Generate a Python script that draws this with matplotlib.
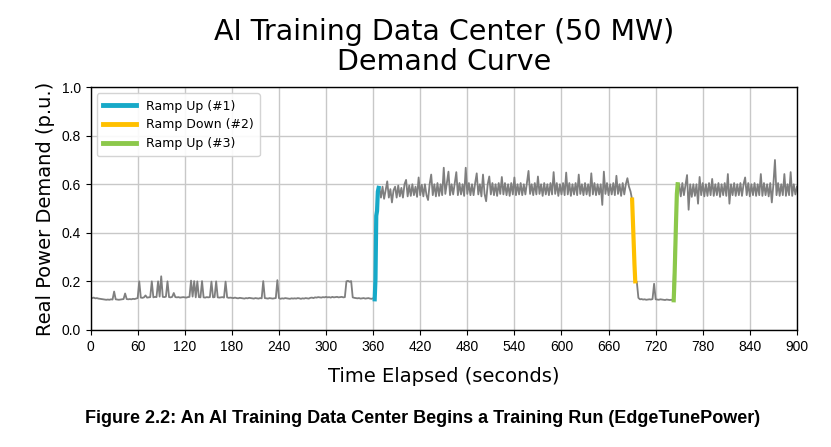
import numpy as np
import matplotlib
matplotlib.use('Agg')
import matplotlib.pyplot as plt

low_a = [0.132, 0.131, 0.133, 0.130, 0.131, 0.129, 0.128, 0.127, 0.126, 0.125,
         0.124, 0.125, 0.124, 0.126, 0.125, 0.158, 0.126, 0.125, 0.124, 0.125,
         0.126, 0.127, 0.150, 0.127, 0.126, 0.127, 0.126, 0.128, 0.127, 0.129,
         0.131, 0.200, 0.133, 0.132, 0.134, 0.142, 0.133, 0.134, 0.135, 0.200,
         0.134, 0.136, 0.135, 0.200, 0.137, 0.221, 0.136, 0.135, 0.137, 0.200,
         0.135, 0.134, 0.136, 0.152, 0.135, 0.134, 0.135, 0.133, 0.134, 0.135,
         0.134, 0.133, 0.135, 0.136, 0.203, 0.137, 0.201, 0.134, 0.200, 0.135,
         0.134, 0.201, 0.134, 0.133, 0.135, 0.134, 0.135, 0.199, 0.134, 0.135,
         0.200, 0.134, 0.133, 0.134, 0.135, 0.133, 0.199, 0.134, 0.132, 0.133,
         0.132, 0.131, 0.133, 0.131, 0.130, 0.132, 0.131, 0.130, 0.129, 0.131,
         0.130, 0.132, 0.131, 0.130, 0.129, 0.131, 0.130, 0.129, 0.131, 0.130,
         0.201, 0.131, 0.130, 0.129, 0.131, 0.130, 0.129, 0.130, 0.131, 0.205,
         0.131, 0.128, 0.130, 0.129, 0.131, 0.130, 0.129, 0.128, 0.130, 0.129,
         0.130, 0.129, 0.131, 0.130, 0.128, 0.130, 0.129, 0.131, 0.130, 0.129,
         0.132, 0.133, 0.131, 0.134, 0.133, 0.135, 0.134, 0.133, 0.135, 0.134,
         0.136, 0.134, 0.135, 0.133, 0.136, 0.134, 0.135, 0.136, 0.134, 0.135,
         0.136, 0.134, 0.135, 0.200, 0.202, 0.198, 0.201, 0.134, 0.132, 0.131,
         0.130, 0.131, 0.129, 0.130, 0.131, 0.129, 0.130, 0.131, 0.129, 0.128,
         0.130]
step_a = [0.126, 0.470, 0.570]
high_a = [0.585, 0.545, 0.590, 0.540, 0.575, 0.612, 0.545, 0.580, 0.525, 0.575,
          0.590, 0.545, 0.595, 0.550, 0.585, 0.545, 0.600, 0.618, 0.550, 0.595,
          0.552, 0.600, 0.555, 0.590, 0.548, 0.628, 0.555, 0.598, 0.550, 0.600,
          0.555, 0.535, 0.600, 0.640, 0.555, 0.600, 0.550, 0.605, 0.552, 0.600,
          0.555, 0.668, 0.560, 0.605, 0.652, 0.555, 0.600, 0.558, 0.605, 0.650,
          0.555, 0.605, 0.558, 0.600, 0.552, 0.668, 0.560, 0.605, 0.555, 0.600,
          0.555, 0.605, 0.645, 0.558, 0.600, 0.550, 0.640, 0.560, 0.530, 0.600,
          0.632, 0.558, 0.605, 0.555, 0.600, 0.552, 0.605, 0.560, 0.630, 0.558,
          0.605, 0.555, 0.600, 0.552, 0.605, 0.558, 0.628, 0.555, 0.600, 0.558,
          0.605, 0.555, 0.600, 0.558, 0.605, 0.655, 0.560, 0.600, 0.555, 0.605,
          0.558, 0.632, 0.560, 0.600, 0.552, 0.605, 0.558, 0.600, 0.555, 0.605,
          0.558, 0.650, 0.560, 0.605, 0.552, 0.600, 0.558, 0.605, 0.555, 0.648,
          0.558, 0.605, 0.552, 0.600, 0.558, 0.605, 0.555, 0.640, 0.560, 0.600,
          0.555, 0.605, 0.558, 0.600, 0.552, 0.645, 0.558, 0.605, 0.555, 0.600,
          0.558, 0.600, 0.515, 0.652, 0.560, 0.605, 0.555, 0.600, 0.558, 0.605,
          0.555, 0.635, 0.560, 0.600, 0.552, 0.605, 0.558, 0.600, 0.625, 0.590,
          0.570]
step_b = [0.537, 0.350, 0.200]
low_b = [0.198, 0.132, 0.126, 0.127, 0.125, 0.126, 0.124, 0.125, 0.126, 0.125,
         0.127, 0.190, 0.126, 0.125, 0.124, 0.126, 0.125, 0.124, 0.123, 0.125,
         0.124, 0.123, 0.124, 0.122]
step_c = [0.300, 0.480, 0.600]
high_b = [0.600, 0.550, 0.605, 0.555, 0.598, 0.638, 0.495, 0.600, 0.548, 0.600,
          0.552, 0.600, 0.520, 0.630, 0.555, 0.605, 0.550, 0.600, 0.552, 0.605,
          0.555, 0.622, 0.552, 0.600, 0.555, 0.605, 0.548, 0.600, 0.555, 0.605,
          0.552, 0.642, 0.520, 0.600, 0.555, 0.605, 0.552, 0.600, 0.555, 0.605,
          0.552, 0.600, 0.628, 0.555, 0.605, 0.550, 0.600, 0.555, 0.605, 0.552,
          0.600, 0.555, 0.642, 0.552, 0.605, 0.555, 0.600, 0.550, 0.605, 0.525,
          0.600, 0.700, 0.555, 0.605, 0.552, 0.600, 0.555, 0.642, 0.552, 0.600,
          0.555, 0.650, 0.552, 0.600, 0.558, 0.590]

power = np.array(low_a + step_a + high_a + step_b + low_b + step_c + high_b)
time_s = np.arange(0, 901, 2)

# ramp segments (1 s resolution)
ramp1_t = [362, 363, 364, 365, 366, 367]
ramp1_p = [0.126, 0.210, 0.470, 0.490, 0.570, 0.585]
ramp2_t = [690, 691, 692, 693, 694]
ramp2_p = [0.537, 0.450, 0.360, 0.270, 0.200]
ramp3_t = [743, 744, 745, 746, 747, 748]
ramp3_p = [0.122, 0.210, 0.330, 0.450, 0.560, 0.600]

xticks = list(range(0, 901, 60))
yticks = [0.0, 0.2, 0.4, 0.6, 0.8, 1.0]

tickfont = ['Liberation Sans', 'DejaVu Sans']

fig = plt.figure(figsize=(8.31, 4.47), dpi=100)
ax = fig.add_axes([0.109, 0.262, 0.850, 0.543])

ax.plot(time_s, power, color='#7f7f7f', linewidth=1.3, zorder=2)
ax.plot(ramp1_t, ramp1_p, color='#17a9c8', linewidth=3, label='Ramp Up (#1)', zorder=3)
ax.plot(ramp2_t, ramp2_p, color='#ffc000', linewidth=3, label='Ramp Down (#2)', zorder=3)
ax.plot(ramp3_t, ramp3_p, color='#8cc84b', linewidth=3, label='Ramp Up (#3)', zorder=3)

ax.set_xlim(0, 900)
ax.set_ylim(0, 1.0)
ax.set_xticks(xticks)
ax.set_yticks(yticks)
ax.set_xticklabels([str(v) for v in xticks], family=tickfont, fontsize=10)
ax.set_yticklabels(['%.1f' % v for v in yticks], family=tickfont, fontsize=10)
ax.grid(True, color='#c8c8c8', linewidth=1.0)
ax.set_axisbelow(True)
for s in ax.spines.values():
	s.set_linewidth(1.0)

ax.set_xlabel('Time Elapsed (seconds)', fontsize=14, labelpad=10)
ax.set_ylabel('Real Power Demand (p.u.)', fontsize=14, labelpad=5)
ax.set_title('AI Training Data Center (50 MW)\nDemand Curve', fontsize=20.5, linespacing=1.1, pad=12)

leg = ax.legend(loc='upper left', fontsize=9, handlelength=2.6, framealpha=0.9,
				edgecolor='#d0d0d0', borderpad=0.5, labelspacing=0.45)
for h in leg.get_lines():
	h.set_linewidth(3.5)

fig.text(0.509, 0.063, 'Figure 2.2: An AI Training Data Center Begins a Training Run (EdgeTunePower)',
		ha='center', va='center', fontsize=13, fontweight='bold', family=tickfont)

fig.savefig('out.png', dpi=100)
